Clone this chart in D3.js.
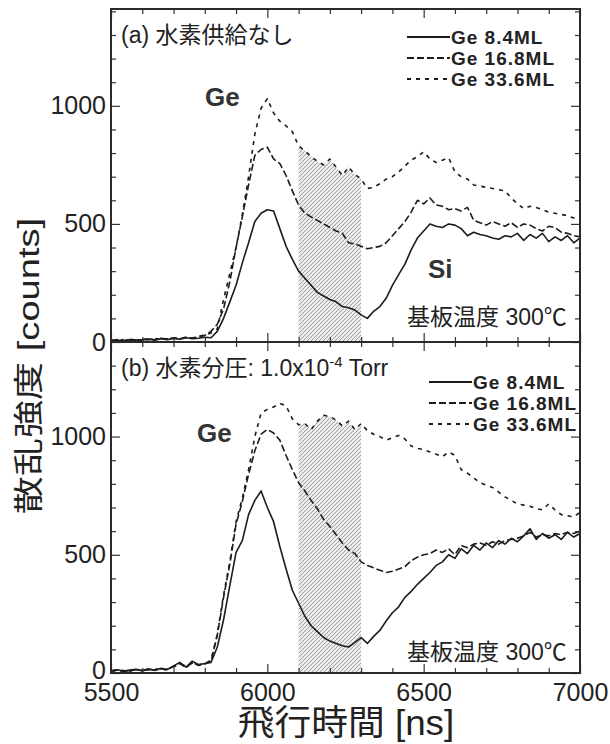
<!DOCTYPE html>
<html>
<head>
<meta charset="utf-8">
<script src="https://cdn.jsdelivr.net/npm/d3@7"></script>
<style>
  body { margin: 0; background: #fff; }
  svg { display: block; }
</style>
</head>
<body>
<script>
// time-of-flight grid, 20 ns steps
var tof = d3.range(5500, 7001, 20);

// (a) no hydrogen supply
var a84 = [5,8,4,10,6,9,12,8,14,10,15,12,18,14,16,
  20,18,45,100,170,240,335,420,510,545,560,555,480,405,350,300,270,240,210,195,
  180,170,150,145,135,115,100,130,150,185,240,285,330,390,440,470,500,490,485,500,
  495,480,450,465,455,450,440,435,450,445,460,430,455,440,460,425,445,430,450,420,440];
var a168 = [6,10,5,12,8,10,14,9,16,12,18,14,20,16,22,
  28,45,75,140,255,400,530,665,790,815,825,775,755,705,640,580,545,530,515,500,
  485,470,460,420,415,405,395,400,405,420,450,480,510,550,600,585,610,580,575,560,
  565,555,570,515,505,495,510,500,490,505,485,500,495,480,470,490,485,465,460,450,445];
var a336 = [8,4,10,6,12,7,10,15,11,14,18,13,20,17,24,
  30,38,55,180,290,400,540,700,880,990,1030,970,935,915,890,830,810,785,765,750,
  775,740,705,740,710,690,650,655,670,690,700,720,745,770,785,805,775,760,770,780,
  720,700,690,665,660,655,650,645,640,610,585,565,575,570,560,550,545,540,535,525,530];

// (b) hydrogen partial pressure 1.0x10^-4 Torr
var b84 = [10,14,8,12,16,10,18,12,20,15,30,45,25,50,35,
  40,45,110,225,370,510,560,670,730,770,700,640,535,440,350,295,240,200,175,150,
  135,125,115,110,130,150,125,155,180,220,255,280,320,345,375,400,425,455,470,500,
  485,525,505,540,520,550,530,560,545,570,555,580,610,565,590,570,585,565,595,575,590];
var b168 = [8,12,6,10,14,9,16,11,18,13,28,40,22,45,32,
  38,50,160,320,460,630,725,840,940,1010,1030,1015,985,920,860,805,770,730,695,650,
  620,585,550,520,505,470,455,445,435,425,430,440,450,475,490,500,505,520,510,525,
  500,540,530,545,550,540,555,545,560,565,570,580,595,575,585,580,590,585,595,590,600];
var b336 = [10,6,12,8,15,10,13,18,12,16,25,38,30,42,35,
  40,55,165,330,470,640,740,860,1000,1100,1115,1125,1140,1130,1075,1050,1055,1030,1065,1090,
  1085,1070,1045,1065,1030,1055,1025,1010,1000,985,995,1005,990,960,950,945,935,925,915,935,
  920,860,845,825,805,795,785,765,745,730,715,710,705,695,690,715,690,670,665,660,680];

var seriesNames = ["Ge 8.4ML", "Ge 16.8ML", "Ge 33.6ML"];
var shadeRange = [6100, 6300];
var xTicksMajor = [5500, 6000, 6500, 7000];
var yTicksMajor = [0, 500, 1000];

var W = 610, H = 744;
var L = 111, R = 580;
var ink = "#1c1c1c";
var latin = "'Liberation Sans', Arial, 'Noto Sans CJK JP', sans-serif";
var dashes = [null, "7,3", "4,5"];

var svg = d3.select("body").append("svg").attr("width", W).attr("height", H);

var defs = svg.append("defs");
var pat = defs.append("pattern").attr("id", "hatch").attr("patternUnits", "userSpaceOnUse")
    .attr("width", 4).attr("height", 4);
pat.append("rect").attr("width", 4).attr("height", 4).attr("fill", "#ececec");
pat.append("path").attr("d", "M-1,1 l2,-2 M0,4 l4,-4 M3,5 l2,-2")
    .attr("stroke", "#8c8c8c").attr("stroke-width", 0.8);

var x = d3.scaleLinear().domain([5500, 7000]).range([L, R]);

var panels = [
  {key: "a", top: 9, bottom: 342, ymax: 1410, data: [a84, a168, a336],
   legendX: 451, legendY: [44, 65, 86], geX: 205, geY: 106,
   tempY: 325, titleY: 43},
  {key: "b", top: 342, bottom: 673, ymax: 1400, data: [b84, b168, b336],
   legendX: 473, legendY: [389, 410, 431], geX: 197, geY: 442,
   tempY: 660, titleY: 376}
];

panels.forEach(function (p, pi) {
  var y = d3.scaleLinear().domain([0, p.ymax]).range([p.bottom, p.top]);
  var g = svg.append("g");

  defs.append("clipPath").attr("id", "clip" + p.key)
    .append("rect").attr("x", L).attr("y", p.top).attr("width", R - L).attr("height", p.bottom - p.top);

  var plot = g.append("g").attr("clip-path", "url(#clip" + p.key + ")");

  // shaded window under the thickest-layer curve
  var shade = tof.map(function (t, i) { return [t, p.data[2][i]]; })
    .filter(function (d) { return d[0] >= shadeRange[0] && d[0] <= shadeRange[1]; });
  plot.append("path")
    .attr("d", d3.area().x(function (d) { return x(d[0]); }).y0(y(0)).y1(function (d) { return y(d[1]); })(shade))
    .attr("fill", "url(#hatch)");

  var line = d3.line().x(function (d, i) { return x(tof[i]); }).y(function (d) { return y(d); });
  p.data.forEach(function (s, si) {
    plot.append("path").attr("d", line(s))
      .attr("fill", "none").attr("stroke", ink).attr("stroke-width", 1.6)
      .attr("stroke-linejoin", "round")
      .attr("stroke-dasharray", dashes[si]);
  });

  // ticks on all four sides, pointing inward
  var minorY = d3.range(100, p.ymax, 100).filter(function (v) { return v % 500 !== 0; });
  var majorY = d3.range(0, p.ymax, 500);
  var minorX = d3.range(5600, 7000, 100).filter(function (v) { return v % 500 !== 0; });

  function axis(gen, tx, ty, vals, size, fmt) {
    var a = g.append("g").attr("transform", "translate(" + tx + "," + ty + ")")
      .call(gen.tickValues(vals).tickSizeInner(-size).tickSizeOuter(0).tickPadding(5)
        .tickFormat(fmt || function () { return ""; }));
    a.select(".domain").remove();
    a.selectAll("line").attr("stroke", "#333").attr("stroke-width", 1.2);
    return a;
  }
  axis(d3.axisLeft(y), L, 0, minorY, 5);
  var yl = axis(d3.axisLeft(y), L, 0, majorY, 9, d3.format("d"));
  yl.selectAll("text").filter(function (d) { return yTicksMajor.indexOf(d) < 0; }).remove();
  yl.selectAll("text").attr("font-size", 25).attr("font-family", latin).attr("fill", "#222")
    .attr("dy", function (d) { return d === 0 && pi === 1 ? "0.22em" : "0.32em"; });
  axis(d3.axisRight(y), R, 0, minorY, 5);
  axis(d3.axisRight(y), R, 0, majorY, 9);
  axis(d3.axisTop(x), 0, p.top, minorX, 5);
  axis(d3.axisTop(x), 0, p.top, xTicksMajor, 9);
  axis(d3.axisBottom(x), 0, p.bottom, minorX, 5);
  var xl = axis(d3.axisBottom(x), 0, p.bottom, xTicksMajor, 9, pi === 1 ? d3.format("d") : null);
  xl.selectAll("text").attr("font-size", 25).attr("font-family", latin).attr("fill", "#222")
    .attr("dy", null).attr("y", 28);

  g.append("rect").attr("x", L).attr("y", p.top).attr("width", R - L).attr("height", p.bottom - p.top)
    .attr("fill", "none").attr("stroke", "#2a2a2a").attr("stroke-width", 2);

  // legend
  seriesNames.forEach(function (name, si) {
    var ly = p.legendY[si];
    g.append("line").attr("x1", p.legendX - 44).attr("x2", p.legendX - 1)
      .attr("y1", ly - 7).attr("y2", ly - 7)
      .attr("stroke", ink).attr("stroke-width", 1.8).attr("stroke-dasharray", dashes[si]);
    g.append("text").attr("x", p.legendX).attr("y", ly).text(name)
      .attr("font-family", latin).attr("font-weight", "bold").attr("font-size", 19)
      .attr("letter-spacing", 1).attr("fill", "#222");
  });

  g.append("text").attr("x", p.geX).attr("y", p.geY).text("Ge")
    .attr("font-family", latin).attr("font-weight", "bold").attr("font-size", 26).attr("fill", "#333");

  g.append("text").attr("x", 407).attr("y", p.tempY).text("基板温度 300℃")
    .attr("font-family", latin).attr("font-size", 23).attr("fill", "#222");

  var title = g.append("text").attr("x", 121).attr("y", p.titleY)
    .attr("font-family", latin).attr("font-size", 23).attr("fill", "#222");
  if (p.key === "a") {
    title.text("(a) 水素供給なし");
  } else {
    title.append("tspan").text("(b) 水素分圧: 1.0x10");
    title.append("tspan").attr("dy", -9).attr("font-size", 15).text("-4");
    title.append("tspan").attr("dy", 9).text(" Torr");
  }
});

svg.append("text").attr("x", 428).attr("y", 278).text("Si")
  .attr("font-family", latin).attr("font-weight", "bold").attr("font-size", 26).attr("fill", "#333");

svg.append("text")
  .attr("transform", "translate(39,366) rotate(-90) scale(1.27,1)")
  .attr("text-anchor", "middle").text("散乱強度 [counts]")
  .attr("font-family", latin).attr("font-size", 30).attr("fill", "#222");

svg.append("text")
  .attr("transform", "translate(346,735) scale(1.05,1)")
  .attr("text-anchor", "middle").text("飛行時間 [ns]")
  .attr("font-family", latin).attr("font-size", 35).attr("fill", "#222");
</script>
</body>
</html>
